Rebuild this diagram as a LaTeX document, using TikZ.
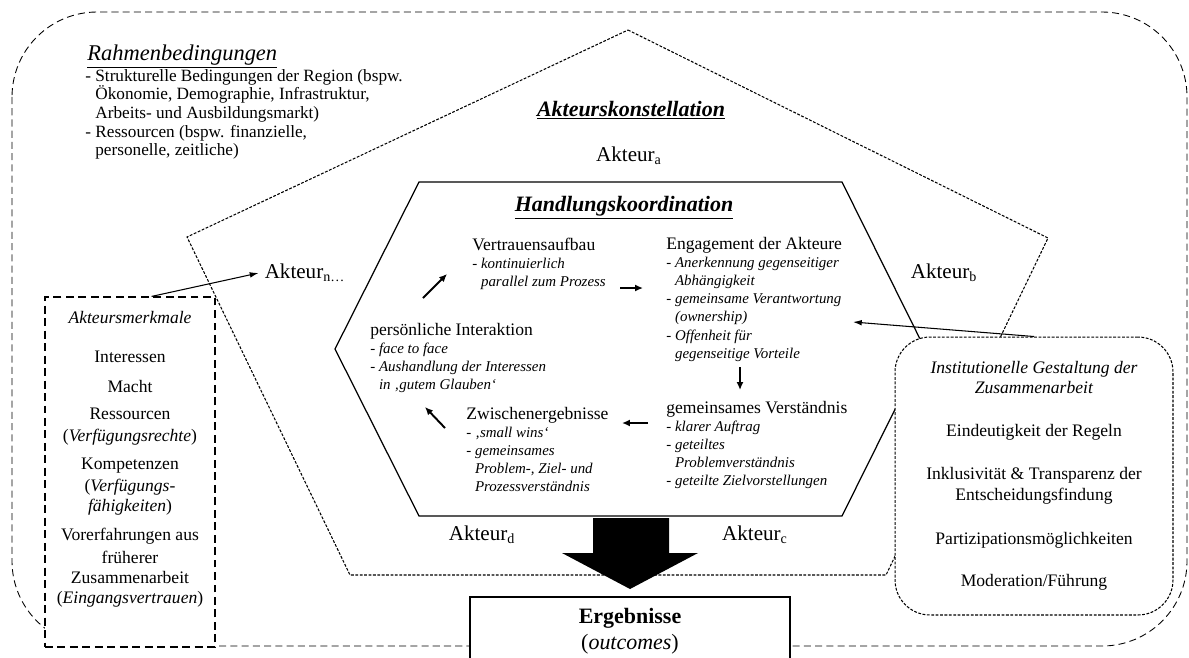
\documentclass[tikz,border=0pt]{standalone}
\usepackage{fontspec}
\setmainfont{Liberation Serif}
\usetikzlibrary{positioning,arrows.meta}

\newcommand{\hkdetail}[1]{{\itshape\fontsize{8.5}{10}\selectfont #1}}

\begin{document}
\begin{tikzpicture}[x=0.02cm,y=-0.02cm,
  frame/.style={dash pattern=on 4pt off 2.4pt,line width=0.5pt},
  konst/.style={dash pattern=on 1.6pt off 0.9pt,line width=0.6pt},
  hexline/.style={line width=0.7pt},
  actor/.style={font=\fontsize{12}{14}\selectfont},
  heading/.style={inner sep=0pt,anchor=base,font=\fontsize{12.5}{14}\selectfont\bfseries\itshape},
  stage/.style={align=left,inner sep=0pt,anchor=north west,font=\fontsize{10}{10.3}\selectfont},
  boxtext/.style={align=center,inner sep=0pt,font=\fontsize{10}{11.7}\selectfont},
  flow/.style={-{Latex[length=4.5pt,width=4pt]},line width=1.1pt},
  link/.style={-{Latex[length=5pt,width=3.2pt]},line width=0.6pt},
  mbox/.style={draw,fill=white,dash pattern=on 4.5pt off 2.6pt,line width=0.7pt,
    minimum width=3.4cm,minimum height=7cm,inner sep=0pt},
  ibox/.style={draw,fill=white,konst,rounded corners=0.7cm,
    minimum width=5.56cm,minimum height=5.56cm,inner sep=0pt}]
\clip (0,0) rectangle (1189,657);
% Rahmen
\draw[frame,rounded corners=1.7cm] (12,12) rectangle (1187,646);
\node[anchor=base west,inner sep=0pt,font=\fontsize{12.8}{14}\selectfont\itshape] (rahmen) at (87,60) {\underline{Rahmenbedingungen}};
\node[stage,font=\fontsize{9.8}{10.6}\selectfont] (rahmenlist) at (85,69) {- Strukturelle Bedingungen der Region (bspw.\\
\phantom{-}\ Ökonomie, Demographie, Infrastruktur,\\
\phantom{-}\ Arbeits- und Ausbildungsmarkt)\\
- Ressourcen (bspw. finanzielle,\\
\phantom{-}\ personelle, zeitliche)};
% Akteurskonstellation
\draw[konst] (628,30) -- (1048,238) -- (886,575) -- (350,575) -- (187,237) -- cycle;
\node[heading] (konstellation) at (631,116) {\underline{Akteurskonstellation}};
\node[actor] (akta) at (629,156) {Akteur\textsubscript{a}};
\node[actor] (aktb) at (944,273) {Akteur\textsubscript{b}};
\node[actor] (aktc) at (755,535) {Akteur\textsubscript{c}};
\node[actor] (aktd) at (482,535) {Akteur\textsubscript{d}};
\node[actor] (aktn) at (305,273) {Akteur\textsubscript{n\ldots}};
% Handlungskoordination
\draw[hexline] (335,349) -- (419,182) -- (842,182) -- (925,349) -- (842,516) -- (419,516) -- cycle;
\node[heading] (handlung) at (624,211) {\underline{Handlungskoordination}};
\node[stage] (vertrauen) at (472,238) {Vertrauensaufbau\\
\hkdetail{- kontinuierlich}\\
\hkdetail{\phantom{-}\ parallel zum Prozess}};
\node[stage] (engagement) at (666,237) {Engagement der Akteure\\
\hkdetail{- Anerkennung gegenseitiger}\\
\hkdetail{\phantom{-}\ Abhängigkeit}\\
\hkdetail{- gemeinsame Verantwortung}\\
\hkdetail{\phantom{-}\ (ownership)}\\
\hkdetail{- Offenheit für}\\
\hkdetail{\phantom{-}\ gegenseitige Vorteile}};
\node[stage] (verstaendnis) at (666,401) {gemeinsames Verständnis\\
\hkdetail{- klarer Auftrag}\\
\hkdetail{- geteiltes}\\
\hkdetail{\phantom{-}\ Problemverständnis}\\
\hkdetail{- geteilte Zielvorstellungen}};
\node[stage] (zwischen) at (466,407) {Zwischenergebnisse\\
\hkdetail{- ‚small wins‘}\\
\hkdetail{- gemeinsames}\\
\hkdetail{\phantom{-}\ Problem-, Ziel- und}\\
\hkdetail{\phantom{-}\ Prozessverständnis}};
\node[stage] (interaktion) at (370,323) {persönliche Interaktion\\
\hkdetail{- face to face}\\
\hkdetail{- Aushandlung der Interessen}\\
\hkdetail{\phantom{-}\ in ‚gutem Glauben‘}};
\coordinate (f1a) at (423,298); \coordinate (f1b) at (447,274);
\coordinate (f2a) at (620,288); \coordinate (f2b) at (643,288);
\coordinate (f3a) at (740,367); \coordinate (f3b) at (740,390);
\coordinate (f4a) at (648,423); \coordinate (f4b) at (622,423);
\coordinate (f5a) at (445,428); \coordinate (f5b) at (425,407);
\draw[flow] (f1a) -- (f1b);
\draw[flow] (f2a) -- (f2b);
\draw[flow] (f3a) -- (f3b);
\draw[flow] (f4a) -- (f4b);
\draw[flow] (f5a) -- (f5b);
% Akteursmerkmale
\node[mbox] (merkmale) at (130,472) {};
\node[boxtext,font=\fontsize{10}{11.4}\selectfont,below=0.3cm of merkmale.north] (merkmaletext) {\textit{Akteursmerkmale}\\[10.5pt]
Interessen\\[5.5pt]
Macht\\[4.3pt]
Ressourcen\\[1pt]
(\textit{Verfügungsrechte})\\[4.3pt]
Kompetenzen\\[1.5pt]
(\textit{Verfügungs-}\\
\textit{fähigkeiten})\\[5pt]
Vorerfahrungen aus\\[1.5pt]
früherer\\
Zusammenarbeit\\
(\textit{Eingangsvertrauen})};
% institutionelle Gestaltung
\node[ibox] (inst) at (1034,476) {};
\node[boxtext,below=0.48cm of inst.north] (insttext) {\textit{Institutionelle Gestaltung der}\\
\textit{Zusammenarbeit}\\[12.5pt]
Eindeutigkeit der Regeln\\[13pt]
Inklusivität \& Transparenz der\\
Entscheidungsfindung\\[13.5pt]
Partizipationsmöglichkeiten\\[12.5pt]
Moderation/Führung};
\coordinate (engin) at (853,322);
\draw[link] (merkmale.83) -- (aktn.west);
\draw[link] (inst.north) -- (engin);
% Ergebnisse
\fill (593,518) -- (669,518) -- (669,553) -- (698,553) -- (630,589) -- (562,553) -- (593,553) -- cycle;
\node[draw,fill=white,line width=1.1pt,minimum width=6.4cm,minimum height=2.2cm] (ergebnis) at (630,652) {};
\node[boxtext,font=\fontsize{12.5}{14.7}\selectfont,below=0.24cm of ergebnis.north] (ergtext) {\textbf{Ergebnisse}\\(\textit{outcomes})};
\end{tikzpicture}
\end{document}
